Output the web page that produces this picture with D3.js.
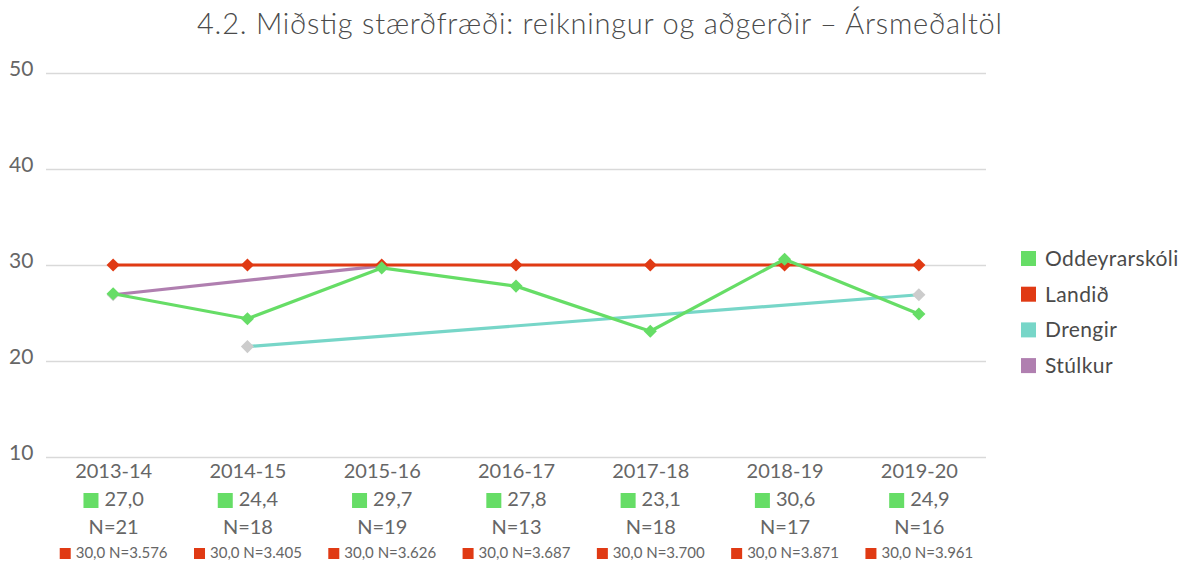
<!DOCTYPE html>
<html>
<head>
<meta charset="utf-8">
<script src="https://cdn.jsdelivr.net/npm/d3@7"></script>
<style>
  html, body { margin: 0; padding: 0; background: #fff; }
  svg { display: block; font-family: Lato, "Open Sans", sans-serif; }
</style>
</head>
<body>
<svg id="chart" width="1186" height="563"></svg>
<script>
// School years on the x axis
const years = ["2013-14", "2014-15", "2015-16", "2016-17", "2017-18", "2018-19", "2019-20"];
// Annual means
const oddeyrarskoli = [27.0, 24.4, 29.7, 27.8, 23.1, 30.6, 24.9];
const oddeyrarskoliN = [21, 18, 19, 13, 18, 17, 16];
const landid = [30.0, 30.0, 30.0, 30.0, 30.0, 30.0, 30.0];
const landidN = [3576, 3405, 3626, 3687, 3700, 3871, 3961];
const drengir = [null, 21.5, null, null, null, null, 26.9];
const stulkur = [26.9, null, 29.9, null, null, null, null];
const yTicks = [10, 20, 30, 40, 50];

const series = [
  { name: "Oddeyrarskóli", values: oddeyrarskoli, color: "#66DD66", marker: "#66DD66" },
  { name: "Landið", values: landid, color: "#E03A14", marker: "#E03A14" },
  { name: "Drengir", values: drengir, color: "#77D6C8", marker: "#CCCCCC" },
  { name: "Stúlkur", values: stulkur, color: "#B07FB0", marker: "#CCCCCC" }
];
// back to front
const drawOrder = ["Stúlkur", "Drengir", "Landið", "Oddeyrarskóli"];

const locale = d3.formatLocale({ decimal: ",", thousands: ".", grouping: [3], currency: ["", ""] });
const fmt1 = locale.format(".1f");
const fmtN = locale.format(",d");

const svg = d3.select("#chart");
const textColor = "#666666";

const x = d3.scalePoint().domain(years).range([46, 986]).padding(0.5);
const y = d3.scaleLinear().domain([10, 50]).range([457, 73]);

// Title
svg.append("text")
  .attr("x", 197).attr("y", 34)
  .attr("text-anchor", "start")
  .attr("font-size", 29)
  .attr("font-weight", 300)
  .attr("fill", "#4a4a4a")
  .attr("textLength", 805)
  .attr("lengthAdjust", "spacing")
  .text("4.2. Miðstig stærðfræði: reikningur og aðgerðir – Ársmeðaltöl");

// Gridlines and y labels
const yAxis = d3.axisLeft(y).tickValues(yTicks).tickSize(-(986 - 46)).tickPadding(0);
const gy = svg.append("g").attr("transform", "translate(46,0)").call(yAxis);
gy.select(".domain").remove();
gy.selectAll(".tick line").attr("stroke", "#D9D9D9").attr("stroke-width", 1.5);
gy.selectAll(".tick text")
  .attr("x", -37).attr("text-anchor", "start")
  .attr("font-size", 21).attr("fill", textColor)
  .attr("font-family", "Lato, sans-serif")
  .attr("dy", "0.1em");

// Lines and markers
const line = d3.line()
  .defined(d => d.v != null)
  .x(d => x(d.year))
  .y(d => y(d.v));

const diamond = d3.symbol().type(d3.symbolDiamond2).size(110);

drawOrder.forEach(name => {
  const s = series.find(t => t.name === name);
  const pts = years.map((yr, i) => ({ year: yr, v: s.values[i] })).filter(d => d.v != null);
  svg.append("path")
    .datum(pts)
    .attr("fill", "none")
    .attr("stroke", s.color)
    .attr("stroke-width", 3.2)
    .attr("stroke-linejoin", "round")
    .attr("d", line);
  svg.append("g").selectAll("path")
    .data(pts)
    .join("path")
    .attr("transform", d => `translate(${x(d.year)},${y(d.v)})`)
    .attr("d", diamond)
    .attr("fill", s.marker);
});

// X axis with multi-line category labels
const xAxis = d3.axisBottom(x).tickSize(0).tickPadding(0);
const gx = svg.append("g").attr("transform", "translate(0,457)").call(xAxis);
gx.select(".domain").remove();
gx.selectAll(".tick text")
  .attr("y", 21).attr("dy", 0)
  .attr("font-size", 20).attr("fill", textColor)
  .attr("font-family", "Lato, sans-serif");

gx.selectAll(".tick").each(function(d, i) {
  const g = d3.select(this);
  // school value line
  const t1 = g.append("text")
    .attr("y", 49).attr("font-size", 20).attr("fill", textColor)
    .attr("text-anchor", "start").attr("font-family", "Lato, sans-serif")
    .text(fmt1(oddeyrarskoli[i]));
  const w1 = t1.node().getComputedTextLength();
  const sq1 = 15, gap1 = 6;
  const start1 = -(sq1 + gap1 + w1) / 2;
  g.append("rect").attr("x", start1).attr("y", 36).attr("width", sq1).attr("height", sq1).attr("fill", "#66DD66");
  t1.attr("x", start1 + sq1 + gap1);

  g.append("text")
    .attr("y", 77).attr("font-size", 20).attr("fill", textColor)
    .attr("text-anchor", "middle").attr("font-family", "Lato, sans-serif")
    .text("N=" + oddeyrarskoliN[i]);

  // national value line
  const t2 = g.append("text")
    .attr("y", 101).attr("font-size", 15).attr("fill", textColor)
    .attr("text-anchor", "start").attr("font-family", "Lato, sans-serif")
    .text(fmt1(landid[i]) + " N=" + fmtN(landidN[i]));
  const w2 = t2.node().getComputedTextLength();
  const sq2 = 11, gap2 = 5;
  const start2 = -(sq2 + gap2 + w2) / 2;
  g.append("rect").attr("x", start2).attr("y", 91).attr("width", sq2).attr("height", sq2).attr("fill", "#E03A14");
  t2.attr("x", start2 + sq2 + gap2);
});

// Legend
const legend = svg.append("g").attr("transform", "translate(1021,259)");
const li = legend.selectAll("g").data(series).join("g")
  .attr("transform", (d, i) => `translate(0,${i * 35.7})`);
li.append("rect").attr("x", 0).attr("y", -8).attr("width", 15).attr("height", 15).attr("fill", d => d.color);
li.append("text").attr("x", 24).attr("y", 7)
  .attr("font-size", 21).attr("fill", "#4a4a4a")
  .attr("letter-spacing", 0.4)
  .attr("font-family", "Lato, sans-serif")
  .text(d => d.name);
</script>
</body>
</html>
